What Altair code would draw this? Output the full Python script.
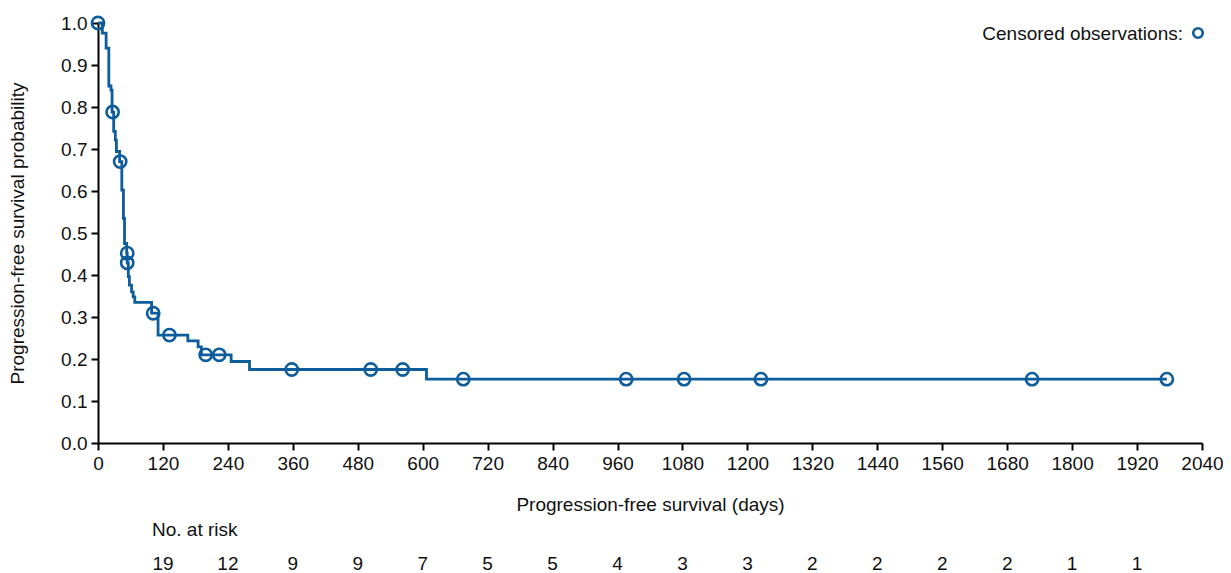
import altair as alt
import pandas as pd

# Kaplan-Meier step curve (day where survival changes, survival from that day)
step_days = [0, 8, 15, 20, 24, 26, 29, 32, 34, 40, 44, 47, 49, 53, 54, 56, 58, 62, 65, 68,
             99, 111, 166, 185, 191, 246, 280, 607, 1975]
step_surv = [1.0, 0.976, 0.940, 0.850, 0.840, 0.788, 0.742, 0.721, 0.694, 0.670, 0.602, 0.535,
             0.475, 0.452, 0.429, 0.396, 0.376, 0.360, 0.348, 0.335, 0.309, 0.257, 0.243, 0.229,
             0.210, 0.194, 0.175, 0.152, 0.152]

# Censored observations
censor_days = [0, 27, 41, 54, 54, 102, 132, 199, 224, 358, 504, 563, 675, 976, 1083, 1225, 1726, 1975]
censor_surv = [1.0, 0.788, 0.670, 0.452, 0.429, 0.309, 0.257, 0.210, 0.210, 0.175, 0.175, 0.175,
               0.152, 0.152, 0.152, 0.152, 0.152, 0.152]

# Number at risk
risk_days = [120, 240, 360, 480, 600, 720, 840, 960, 1080, 1200, 1320, 1440, 1560, 1680, 1800, 1920]
risk_n = [19, 12, 9, 9, 7, 5, 5, 4, 3, 3, 2, 2, 2, 2, 1, 1]

x_ticks = list(range(0, 2041, 120))
y_ticks = [i / 10 for i in range(11)]

BLUE = "#0d5c9c"
TXT = "#111111"
FONT = "Liberation Sans"
FS = 19

steps = pd.DataFrame({"day": step_days, "surv": step_surv})
cens = pd.DataFrame({"day": censor_days, "surv": censor_surv})
risk = pd.DataFrame({"day": risk_days, "n": [str(v) for v in risk_n]})

xscale = alt.Scale(domain=[0, 2040], nice=False, zero=True)
yscale = alt.Scale(domain=[0, 1], nice=False)

xax = alt.Axis(values=x_ticks, title="Progression-free survival (days)", grid=False,
               titlePadding=22, labelPadding=4, format="d", labelFlush=False, labelOverlap=False)
yax = alt.Axis(values=y_ticks, title="Progression-free survival probability", grid=False,
               format=".1f", titlePadding=33, labelPadding=4, labelFlush=False, labelOverlap=False)

line = alt.Chart(steps).mark_line(interpolate="step-after", color=BLUE, strokeWidth=2.8).encode(
    x=alt.X("day:Q", scale=xscale, axis=xax),
    y=alt.Y("surv:Q", scale=yscale, axis=yax),
)

pts = alt.Chart(cens).mark_point(shape="circle", filled=False, color=BLUE, size=150, opacity=1,
                                 strokeWidth=2.6).encode(
    x=alt.X("day:Q", scale=xscale),
    y=alt.Y("surv:Q", scale=yscale),
)

risk_txt = alt.Chart(risk).mark_text(fontSize=FS, font=FONT, color=TXT, baseline="middle").encode(
    x=alt.X("day:Q", scale=xscale),
    y=alt.value(541),
    text="n:N",
)

risk_title = alt.Chart(pd.DataFrame({"t": ["No. at risk"]})).mark_text(
    fontSize=FS, font=FONT, color=TXT, align="left", baseline="middle").encode(
    x=alt.value(54), y=alt.value(507), text="t:N")

legend_txt = alt.Chart(pd.DataFrame({"t": ["Censored observations:"]})).mark_text(
    fontSize=FS, font=FONT, color=TXT, align="right", baseline="middle").encode(
    x=alt.value(1085), y=alt.value(11), text="t:N")

legend_pt = alt.Chart(pd.DataFrame({"t": ["o"]})).mark_point(
    shape="circle", filled=False, color=BLUE, size=90, opacity=1, strokeWidth=2.6).encode(
    x=alt.value(1100), y=alt.value(10))

chart = alt.layer(line, pts, risk_txt, risk_title, legend_txt, legend_pt).properties(
    width=1104, height=420,
    autosize=alt.AutoSizeParams(type="none"),
    padding={"left": 90, "top": 15, "right": 21, "bottom": 130},
    background="white",
).configure_view(stroke=None).configure_axis(
    domainColor="black", domainWidth=2, tickColor="black", tickWidth=2, tickSize=7,
    labelColor=TXT, labelFont=FONT, labelFontSize=FS, titleFont=FONT, titleFontSize=FS,
    titleColor=TXT, titleFontWeight="normal",
)

chart.save("out.html", embed_options={"renderer": "svg", "actions": False})
